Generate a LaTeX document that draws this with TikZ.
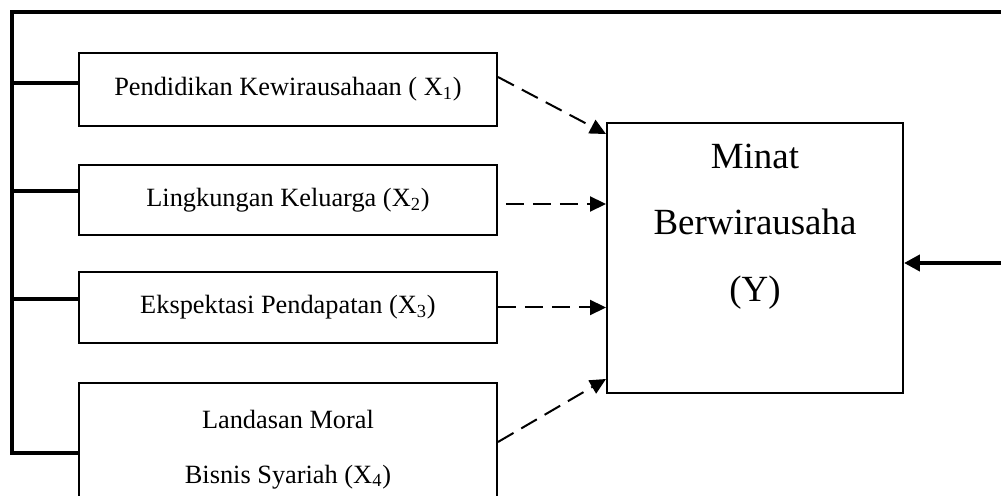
\documentclass[tikz,border=0pt]{standalone}
\usepackage{fontspec}
\setmainfont{Liberation Serif}
\usetikzlibrary{arrows.meta, positioning}

\begin{document}
\begin{tikzpicture}[x=0.02cm,y=-0.02cm,
                    frame line/.style={line width=0.08cm},
                    var node/.style={draw,line width=0.04cm,minimum width=8.36cm,inner sep=0pt,
                                     align=center,font=\fontsize{15pt}{31pt}\selectfont},
                    dash arrow/.style={line width=0.04cm,dash pattern=on 0.36cm off 0.18cm,
                                       -{Triangle[length=0.32cm,width=0.3cm]}},
                    main arrow/.style={line width=0.08cm,-{Triangle[length=0.32cm,width=0.32cm]}}]

  \useasboundingbox (0,0) rectangle (1001,496);

  % independent variables
  \node[var node,minimum height=1.46cm] (1) at (288,89.5) {Pendidikan Kewirausahaan ( X\textsubscript{1})};
  \node[var node,minimum height=1.40cm] (2) at (288,200) {Lingkungan Keluarga (X\textsubscript{2})};
  \node[var node,minimum height=1.42cm] (3) at (288,307.5) {Ekspektasi Pendapatan (X\textsubscript{3})};
  \node[var node,minimum height=2.66cm] (4) at (288,449.5) {Landasan Moral\\Bisnis Syariah (X\textsubscript{4})};

  % dependent variable
  \node[draw,line width=0.04cm,minimum width=5.92cm,minimum height=5.4cm] (Y) at (755,258) {};
  \node[align=center,font=\fontsize{21pt}{38pt}\selectfont] (ytext) at ([yshift=0.63cm]Y.center) {Minat\\Berwirausaha\\(Y)};

  % outer frame
  \coordinate (tl) at (12,12);
  \coordinate (tr) at (1010,12);
  \coordinate (t1) at (12,83);
  \coordinate (t2) at (12,191);
  \coordinate (t3) at (12,299);
  \coordinate (t4) at (12,453);
  \coordinate (r) at (1010,263);
  \coordinate (s2) at ([xshift=0.16cm,yshift=-0.08cm]2.east);

  \draw[frame line] (tr) -- (tl) -- (t4) -- (t4 -| 4.west);
  \draw[frame line] (t1) -- (t1 -| 1.west);
  \draw[frame line] (t2) -- (t2 -| 2.west);
  \draw[frame line] (t3) -- (t3 -| 3.west);
  \draw[main arrow] (r) -- (r -| Y.east);

  % dashed links
  \draw[dash arrow] ([yshift=0.25cm]1.east) -- ([yshift=-0.24cm]Y.north west);
  \draw[dash arrow] (s2) -- (s2 -| Y.west);
  \draw[dash arrow] (3.east) -- (3.east -| Y.west);
  \draw[dash arrow] ([yshift=0.15cm]4.east) -- ([yshift=0.3cm]Y.south west);

\end{tikzpicture}
\end{document}
